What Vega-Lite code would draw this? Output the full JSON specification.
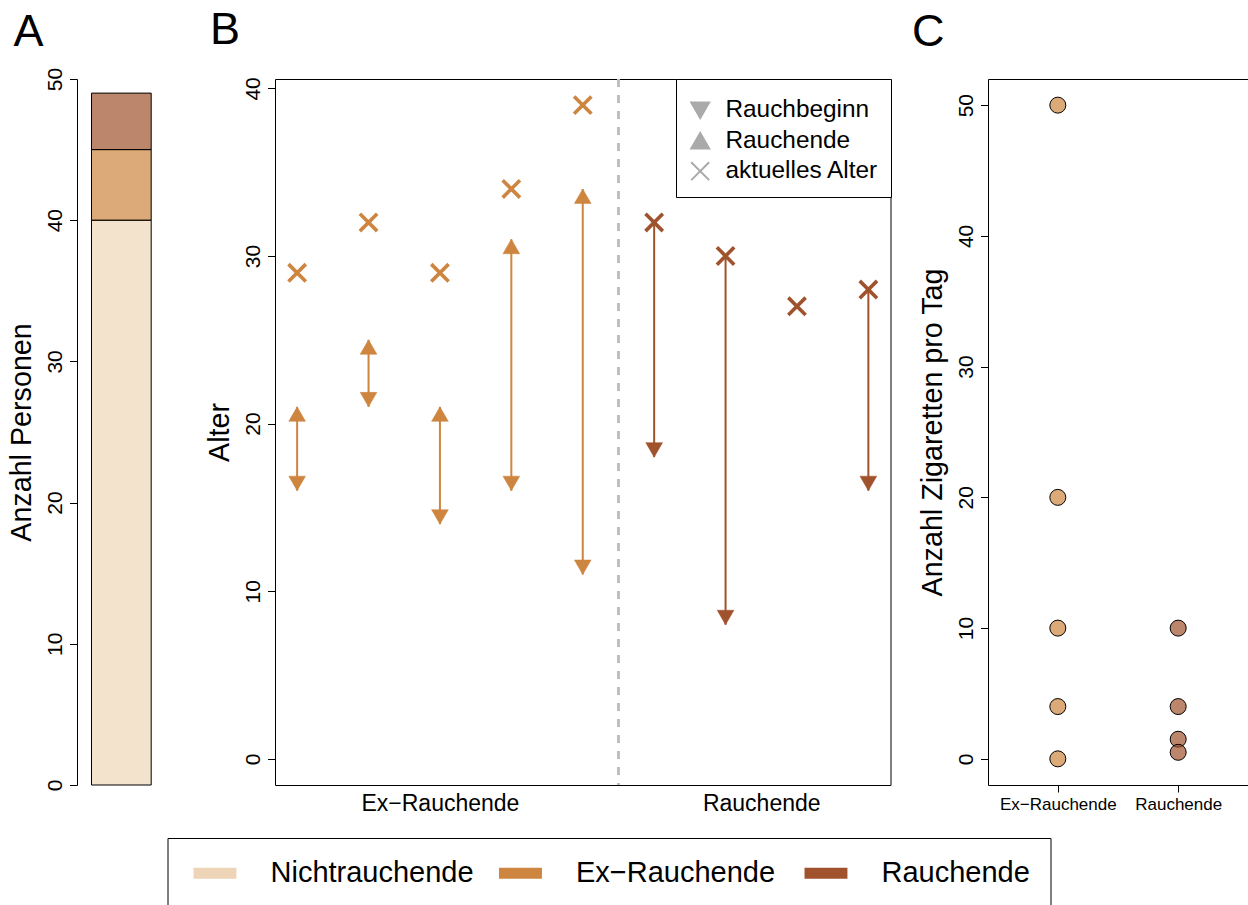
{
  "$schema": "https://vega.github.io/schema/vega-lite/v6.json",
  "background": "white",
  "padding": {"left": 7, "top": 7, "right": 0, "bottom": 0},
  "config": {
    "font": "Liberation Sans",
    "view": {"stroke": null},
    "axis": {"grid": false, "labelFont": "Liberation Sans", "titleFont": "Liberation Sans", "labelColor": "black", "titleColor": "black", "tickColor": "black", "domainColor": "black", "titleFontWeight": "normal", "labelFlush": false, "labelOverlap": false, "labelBound": false},
    "legend": {"labelFont": "Liberation Sans", "labelColor": "black"},
    "title": {"font": "Liberation Sans", "fontWeight": "normal", "color": "black"}
  },
  "datasets": {
    "personen": [
      {"status": "Nichtrauchende", "anzahl": 40, "ord": 1},
      {"status": "Ex−Rauchende", "anzahl": 5, "ord": 2},
      {"status": "Rauchende", "anzahl": 4, "ord": 3}
    ],
    "alter": [
      {"gruppe": "Ex−Rauchende", "pos": 1, "Rauchbeginn": 16, "Rauchende": 21, "aktuelles Alter": 29},
      {"gruppe": "Ex−Rauchende", "pos": 2, "Rauchbeginn": 21, "Rauchende": 25, "aktuelles Alter": 32},
      {"gruppe": "Ex−Rauchende", "pos": 3, "Rauchbeginn": 14, "Rauchende": 21, "aktuelles Alter": 29},
      {"gruppe": "Ex−Rauchende", "pos": 4, "Rauchbeginn": 16, "Rauchende": 31, "aktuelles Alter": 34},
      {"gruppe": "Ex−Rauchende", "pos": 5, "Rauchbeginn": 11, "Rauchende": 34, "aktuelles Alter": 39},
      {"gruppe": "Rauchende", "pos": 6, "Rauchbeginn": 18, "Rauchende": null, "aktuelles Alter": 32},
      {"gruppe": "Rauchende", "pos": 7, "Rauchbeginn": 8, "Rauchende": null, "aktuelles Alter": 30},
      {"gruppe": "Rauchende", "pos": 8, "Rauchbeginn": null, "Rauchende": null, "aktuelles Alter": 27},
      {"gruppe": "Rauchende", "pos": 9, "Rauchbeginn": 16, "Rauchende": null, "aktuelles Alter": 28}
    ],
    "zigaretten": [
      {"gruppe": "Ex−Rauchende", "pos": 1, "anzahl": 50},
      {"gruppe": "Ex−Rauchende", "pos": 1, "anzahl": 20},
      {"gruppe": "Ex−Rauchende", "pos": 1, "anzahl": 10},
      {"gruppe": "Ex−Rauchende", "pos": 1, "anzahl": 4},
      {"gruppe": "Ex−Rauchende", "pos": 1, "anzahl": 0},
      {"gruppe": "Rauchende", "pos": 2, "anzahl": 10},
      {"gruppe": "Rauchende", "pos": 2, "anzahl": 4},
      {"gruppe": "Rauchende", "pos": 2, "anzahl": 1.5},
      {"gruppe": "Rauchende", "pos": 2, "anzahl": 0.5}
    ]
  },
  "spacing": 97,
  "bounds": "flush",
  "resolve": {"scale": {"color": "independent", "shape": "independent", "stroke": "independent"}, "legend": {"color": "independent", "shape": "independent", "stroke": "independent"}},
  "hconcat": [
    {
      "width": 101,
      "height": 706,
      "title": {"text": "A", "anchor": "start", "frame": "group", "fontSize": 45, "baseline": "alphabetic", "dx": -63.5, "offset": -24},
      "data": {"name": "personen"},
      "mark": {"type": "bar", "stroke": "black", "strokeWidth": 1, "fillOpacity": 0.7},
      "encoding": {
        "x": {"datum": "Personen", "type": "nominal", "scale": {"paddingInner": 0, "paddingOuter": 0.346, "align": 0.351}, "axis": null},
        "y": {"field": "anzahl", "type": "quantitative", "stack": "zero", "scale": {"domain": [0, 50], "nice": false},
          "axis": {"values": [0, 10, 20, 30, 40, 50], "title": "Anzahl Personen", "titleFontSize": 28.7, "labelFontSize": 21, "labelAngle": -90, "labelAlign": "center", "labelBaseline": "bottom", "tickSize": 7.5, "labelPadding": 4, "titlePadding": 8, "domain": true}},
        "order": {"field": "ord", "type": "quantitative"},
        "color": {"field": "status", "type": "nominal",
          "scale": {"domain": ["Nichtrauchende", "Ex−Rauchende", "Rauchende"], "range": ["#EED5B7", "#CD853F", "#A0522D"]},
          "legend": {"title": null, "orient": "none", "legendX": 90.5, "legendY": 759, "direction": "horizontal", "columns": 3, "gridAlign": "all", "symbolType": "M-0.62,-0.38H2.34V0.38H-0.62Z", "symbolSize": 841, "symbolStrokeWidth": 0, "symbolOpacity": 1, "labelFontSize": 29, "labelOffset": 53.5, "columnPadding": 19.5, "padding": 20.5, "strokeColor": "black", "fillColor": "white", "labelLimit": 400}}
      }
    },
    {
      "width": 615.5,
      "height": 706,
      "view": {"stroke": "black", "strokeWidth": 1},
      "title": {"text": "B", "anchor": "start", "frame": "group", "fontSize": 45, "baseline": "alphabetic", "dx": -65, "offset": -12},
      "data": {"name": "alter"},
      "layer": [
        {
          "mark": {"type": "rule", "color": "#BEBEBE", "strokeDash": [8, 8], "strokeWidth": 2},
          "encoding": {
            "x": {"datum": 5.5, "type": "quantitative", "scale": {"domain": [0.69, 9.31], "nice": false, "zero": false},
              "axis": {"values": [3, 7.5], "labelExpr": "datum.value == 3 ? 'Ex−Rauchende' : 'Rauchende'", "ticks": false, "tickSize": 0, "domain": false, "title": null, "labelFontSize": 23, "labelPadding": 7.5}}
          }
        },
        {
          "transform": [{"filter": "datum.gruppe == 'Ex−Rauchende'"}],
          "mark": {"type": "rule", "strokeWidth": 2},
          "encoding": {
            "x": {"field": "pos", "type": "quantitative", "scale": {"domain": [0.69, 9.31], "nice": false, "zero": false},
              "axis": {"values": [3, 7.5], "labelExpr": "datum.value == 3 ? 'Ex−Rauchende' : 'Rauchende'", "ticks": false, "tickSize": 0, "domain": false, "title": null, "labelFontSize": 23, "labelPadding": 7.5}},
            "y": {"field": "Rauchbeginn", "type": "quantitative", "scale": {"domain": [-1.56, 40.56], "nice": false, "zero": false},
              "axis": {"values": [0, 10, 20, 30, 40], "title": "Alter", "titleFontSize": 28.7, "labelFontSize": 21, "labelAngle": -90, "labelAlign": "center", "labelBaseline": "bottom", "tickSize": 7.5, "labelPadding": 4, "titlePadding": 8, "domain": false}},
            "y2": {"field": "Rauchende"},
            "color": {"field": "gruppe", "type": "nominal", "scale": {"domain": ["Nichtrauchende", "Ex−Rauchende", "Rauchende"], "range": ["#EED5B7", "#CD853F", "#A0522D"]}, "legend": null}
          }
        },
        {
          "transform": [{"filter": "datum.gruppe == 'Rauchende' && datum.Rauchbeginn != null"}],
          "mark": {"type": "rule", "strokeWidth": 2},
          "encoding": {
            "x": {"field": "pos", "type": "quantitative"},
            "y": {"field": "Rauchbeginn", "type": "quantitative", "title": "Alter"},
            "y2": {"field": "aktuelles Alter"},
            "color": {"field": "gruppe", "type": "nominal", "legend": null}
          }
        },
        {
          "transform": [
            {"fold": ["Rauchbeginn", "Rauchende", "aktuelles Alter"], "as": ["typ", "wert"]},
            {"filter": "datum.wert != null"}
          ],
          "encoding": {
            "x": {"field": "pos", "type": "quantitative"},
            "y": {"field": "wert", "type": "quantitative", "title": "Alter"},
            "color": {"field": "gruppe", "type": "nominal", "legend": null},
            "stroke": {"field": "gruppe", "type": "nominal", "scale": {"domain": ["Nichtrauchende", "Ex−Rauchende", "Rauchende"], "range": ["#EED5B7", "#CD853F", "#A0522D"]}, "legend": null},
            "shape": {"field": "typ", "type": "nominal",
              "scale": {"domain": ["Rauchbeginn", "Rauchende", "aktuelles Alter"], "range": ["triangle-down", "triangle-up", "M-1,-1L1,1M1,-1L-1,1"]},
              "legend": {"title": " ", "titleFontSize": 1, "titlePadding": 6, "orient": "top-right", "offset": 0, "padding": 12, "rowPadding": 5.5, "strokeColor": "black", "fillColor": "white", "labelFontSize": 24.4, "labelOffset": 13, "symbolSize": 320, "symbolFillColor": "#AAAAAA", "symbolStrokeColor": "#AAAAAA", "symbolStrokeWidth": 2, "symbolOpacity": 1, "cornerRadius": 0}}
          },
          "layer": [
            {"transform": [{"filter": "datum.typ == 'Rauchbeginn'"}], "mark": {"type": "point", "filled": true, "opacity": 1, "size": 280, "strokeWidth": 0.5, "yOffset": -7.25}},
            {"transform": [{"filter": "datum.typ == 'Rauchende'"}], "mark": {"type": "point", "filled": true, "opacity": 1, "size": 280, "strokeWidth": 0.5, "yOffset": 7.25}},
            {"transform": [{"filter": "datum.typ == 'aktuelles Alter'"}], "mark": {"type": "point", "filled": true, "opacity": 1, "size": 300, "strokeWidth": 3.6}}
          ]
        }
      ]
    },
    {
      "width": 260,
      "height": 706,
      "view": {"stroke": "black", "strokeWidth": 1},
      "title": {"text": "C", "anchor": "start", "frame": "group", "fontSize": 45, "baseline": "alphabetic", "dx": -76, "offset": -12},
      "data": {"name": "zigaretten"},
      "mark": {"type": "circle", "size": 256, "opacity": 1, "fillOpacity": 0.7, "stroke": "black", "strokeWidth": 1},
      "encoding": {
        "x": {"field": "pos", "type": "quantitative", "scale": {"domain": [0.42, 2.58], "nice": false, "zero": false},
          "axis": {"values": [1, 2], "labelExpr": "datum.value == 1 ? 'Ex−Rauchende' : 'Rauchende'", "title": null, "domain": false, "tickSize": 7, "labelFontSize": 17, "labelPadding": 4.6}},
        "y": {"field": "anzahl", "type": "quantitative", "scale": {"domain": [-2, 52], "nice": false, "zero": false},
          "axis": {"values": [0, 10, 20, 30, 40, 50], "title": "Anzahl Zigaretten pro Tag", "titleFontSize": 28.7, "labelFontSize": 21, "labelAngle": -90, "labelAlign": "center", "labelBaseline": "bottom", "tickSize": 7.5, "labelPadding": 4, "titlePadding": 8, "domain": false}},
        "color": {"field": "gruppe", "type": "nominal", "scale": {"domain": ["Nichtrauchende", "Ex−Rauchende", "Rauchende"], "range": ["#EED5B7", "#CD853F", "#A0522D"]}, "legend": null}
      }
    }
  ]
}
